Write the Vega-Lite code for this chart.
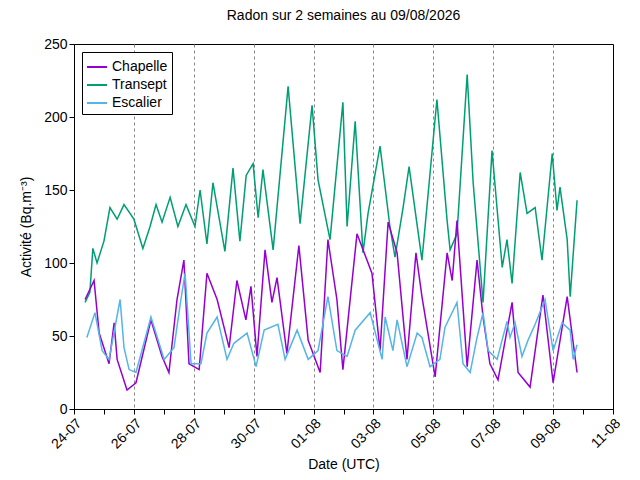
{
  "$schema": "https://vega.github.io/schema/vega-lite/v6.json",
  "autosize": "none",
  "width": 539,
  "height": 365,
  "padding": {"left": 74, "top": 44, "right": 27, "bottom": 71},
  "config": {
    "font": "Liberation Sans",
    "view": {"stroke": "black", "strokeWidth": 1},
    "axis": {"labelFontSize": 14, "titleFontSize": 14, "labelColor": "black", "titleColor": "black", "titleFontWeight": "normal", "domainColor": "black", "tickColor": "black"}
  },
  "title": {"text": "Radon sur 2 semaines au 09/08/2026", "fontSize": 14, "fontWeight": "normal", "offset": 14},
  "data": {"values": [
    {"s":"Transept","d":0.37,"v":73},{"s":"Transept","d":0.53,"v":80},{"s":"Transept","d":0.63,"v":110},{"s":"Transept","d":0.77,"v":100},{"s":"Transept","d":1.0,"v":115},{"s":"Transept","d":1.2,"v":138},{"s":"Transept","d":1.44,"v":130},{"s":"Transept","d":1.67,"v":140},{"s":"Transept","d":2.0,"v":130},{"s":"Transept","d":2.3,"v":110},{"s":"Transept","d":2.54,"v":125},{"s":"Transept","d":2.74,"v":140},{"s":"Transept","d":2.94,"v":128},{"s":"Transept","d":3.21,"v":145},{"s":"Transept","d":3.47,"v":125},{"s":"Transept","d":3.74,"v":140},{"s":"Transept","d":4.04,"v":125},{"s":"Transept","d":4.21,"v":150},{"s":"Transept","d":4.44,"v":113},{"s":"Transept","d":4.64,"v":155},{"s":"Transept","d":5.04,"v":108},{"s":"Transept","d":5.31,"v":165},{"s":"Transept","d":5.54,"v":115},{"s":"Transept","d":5.75,"v":160},{"s":"Transept","d":5.98,"v":168},{"s":"Transept","d":6.15,"v":131},{"s":"Transept","d":6.31,"v":164},{"s":"Transept","d":6.65,"v":109},{"s":"Transept","d":7.15,"v":221},{"s":"Transept","d":7.55,"v":127},{"s":"Transept","d":7.95,"v":208},{"s":"Transept","d":8.15,"v":157},{"s":"Transept","d":8.55,"v":116},{"s":"Transept","d":8.98,"v":210},{"s":"Transept","d":9.12,"v":125},{"s":"Transept","d":9.39,"v":197},{"s":"Transept","d":9.65,"v":107},{"s":"Transept","d":9.82,"v":134},{"s":"Transept","d":10.22,"v":180},{"s":"Transept","d":10.55,"v":125},{"s":"Transept","d":10.72,"v":104},{"s":"Transept","d":10.99,"v":138},{"s":"Transept","d":11.19,"v":166},{"s":"Transept","d":11.62,"v":102},{"s":"Transept","d":12.12,"v":212},{"s":"Transept","d":12.46,"v":129},{"s":"Transept","d":12.56,"v":109},{"s":"Transept","d":12.79,"v":120},{"s":"Transept","d":13.13,"v":229},{"s":"Transept","d":13.33,"v":155},{"s":"Transept","d":13.66,"v":73},{"s":"Transept","d":13.96,"v":177},{"s":"Transept","d":14.3,"v":97},{"s":"Transept","d":14.46,"v":116},{"s":"Transept","d":14.63,"v":86},{"s":"Transept","d":14.9,"v":162},{"s":"Transept","d":15.13,"v":134},{"s":"Transept","d":15.4,"v":138},{"s":"Transept","d":15.63,"v":102},{"s":"Transept","d":15.97,"v":175},{"s":"Transept","d":16.13,"v":136},{"s":"Transept","d":16.23,"v":152},{"s":"Transept","d":16.47,"v":116},{"s":"Transept","d":16.57,"v":77},{"s":"Transept","d":16.8,"v":143},
    {"s":"Chapelle","d":0.37,"v":75},{"s":"Chapelle","d":0.67,"v":88},{"s":"Chapelle","d":0.84,"v":52},{"s":"Chapelle","d":1.17,"v":31},{"s":"Chapelle","d":1.34,"v":59},{"s":"Chapelle","d":1.44,"v":34},{"s":"Chapelle","d":1.77,"v":13},{"s":"Chapelle","d":2.07,"v":18},{"s":"Chapelle","d":2.57,"v":61},{"s":"Chapelle","d":2.94,"v":36},{"s":"Chapelle","d":3.17,"v":25},{"s":"Chapelle","d":3.44,"v":75},{"s":"Chapelle","d":3.67,"v":102},{"s":"Chapelle","d":3.84,"v":31},{"s":"Chapelle","d":4.18,"v":27},{"s":"Chapelle","d":4.44,"v":93},{"s":"Chapelle","d":4.78,"v":75},{"s":"Chapelle","d":5.18,"v":42},{"s":"Chapelle","d":5.44,"v":88},{"s":"Chapelle","d":5.74,"v":61},{"s":"Chapelle","d":5.91,"v":84},{"s":"Chapelle","d":6.11,"v":36},{"s":"Chapelle","d":6.38,"v":109},{"s":"Chapelle","d":6.61,"v":73},{"s":"Chapelle","d":6.78,"v":90},{"s":"Chapelle","d":7.11,"v":38},{"s":"Chapelle","d":7.51,"v":112},{"s":"Chapelle","d":7.82,"v":47},{"s":"Chapelle","d":8.22,"v":25},{"s":"Chapelle","d":8.48,"v":116},{"s":"Chapelle","d":8.78,"v":75},{"s":"Chapelle","d":8.98,"v":27},{"s":"Chapelle","d":9.45,"v":120},{"s":"Chapelle","d":9.95,"v":93},{"s":"Chapelle","d":10.22,"v":40},{"s":"Chapelle","d":10.49,"v":128},{"s":"Chapelle","d":10.79,"v":107},{"s":"Chapelle","d":11.12,"v":34},{"s":"Chapelle","d":11.42,"v":107},{"s":"Chapelle","d":11.62,"v":77},{"s":"Chapelle","d":12.06,"v":22},{"s":"Chapelle","d":12.46,"v":107},{"s":"Chapelle","d":12.63,"v":88},{"s":"Chapelle","d":12.79,"v":129},{"s":"Chapelle","d":13.13,"v":29},{"s":"Chapelle","d":13.46,"v":102},{"s":"Chapelle","d":13.66,"v":63},{"s":"Chapelle","d":13.89,"v":31},{"s":"Chapelle","d":14.16,"v":20},{"s":"Chapelle","d":14.63,"v":73},{"s":"Chapelle","d":14.83,"v":25},{"s":"Chapelle","d":15.23,"v":15},{"s":"Chapelle","d":15.66,"v":78},{"s":"Chapelle","d":16.0,"v":18},{"s":"Chapelle","d":16.47,"v":77},{"s":"Chapelle","d":16.8,"v":25},
    {"s":"Escalier","d":0.43,"v":49},{"s":"Escalier","d":0.7,"v":66},{"s":"Escalier","d":0.94,"v":40},{"s":"Escalier","d":1.17,"v":34},{"s":"Escalier","d":1.54,"v":75},{"s":"Escalier","d":1.67,"v":42},{"s":"Escalier","d":1.84,"v":27},{"s":"Escalier","d":2.07,"v":25},{"s":"Escalier","d":2.57,"v":63},{"s":"Escalier","d":3.01,"v":34},{"s":"Escalier","d":3.34,"v":42},{"s":"Escalier","d":3.57,"v":75},{"s":"Escalier","d":3.71,"v":93},{"s":"Escalier","d":3.91,"v":31},{"s":"Escalier","d":4.24,"v":31},{"s":"Escalier","d":4.44,"v":52},{"s":"Escalier","d":4.78,"v":63},{"s":"Escalier","d":5.11,"v":34},{"s":"Escalier","d":5.34,"v":45},{"s":"Escalier","d":5.78,"v":52},{"s":"Escalier","d":6.08,"v":29},{"s":"Escalier","d":6.35,"v":54},{"s":"Escalier","d":6.81,"v":58},{"s":"Escalier","d":7.05,"v":34},{"s":"Escalier","d":7.45,"v":54},{"s":"Escalier","d":7.82,"v":34},{"s":"Escalier","d":8.15,"v":40},{"s":"Escalier","d":8.48,"v":77},{"s":"Escalier","d":8.78,"v":40},{"s":"Escalier","d":9.12,"v":36},{"s":"Escalier","d":9.39,"v":54},{"s":"Escalier","d":9.89,"v":66},{"s":"Escalier","d":10.29,"v":34},{"s":"Escalier","d":10.39,"v":63},{"s":"Escalier","d":10.65,"v":40},{"s":"Escalier","d":10.79,"v":61},{"s":"Escalier","d":11.12,"v":29},{"s":"Escalier","d":11.46,"v":52},{"s":"Escalier","d":11.62,"v":49},{"s":"Escalier","d":11.89,"v":29},{"s":"Escalier","d":12.22,"v":34},{"s":"Escalier","d":12.39,"v":56},{"s":"Escalier","d":12.79,"v":73},{"s":"Escalier","d":12.99,"v":31},{"s":"Escalier","d":13.23,"v":25},{"s":"Escalier","d":13.46,"v":49},{"s":"Escalier","d":13.66,"v":66},{"s":"Escalier","d":13.83,"v":40},{"s":"Escalier","d":14.13,"v":34},{"s":"Escalier","d":14.46,"v":60},{"s":"Escalier","d":14.56,"v":49},{"s":"Escalier","d":14.73,"v":59},{"s":"Escalier","d":14.96,"v":36},{"s":"Escalier","d":15.16,"v":47},{"s":"Escalier","d":15.4,"v":58},{"s":"Escalier","d":15.73,"v":75},{"s":"Escalier","d":16.0,"v":40},{"s":"Escalier","d":16.3,"v":59},{"s":"Escalier","d":16.57,"v":54},{"s":"Escalier","d":16.67,"v":34},{"s":"Escalier","d":16.8,"v":44}
  ]},
  "mark": {"type": "line", "strokeWidth": 1.5},
  "encoding": {
    "x": {
      "field": "d", "type": "quantitative",
      "scale": {"domain": [0, 18], "nice": false},
      "title": "Date (UTC)",
      "axis": {
        "values": [0,1,2,3,4,5,6,7,8,9,10,11,12,13,14,15,16,17,18],
        "labelExpr": "datum.value % 2 == 0 ? timeFormat(datetime(2026, 6, 24 + datum.value), '%d-%m') : ''",
        "labelAngle": -45, "labelAlign": "right", "labelBaseline": "top",
        "grid": true, "gridDash": [3, 3], "gridColor": "#888",
        "gridOpacity": {"condition": {"test": "datum.value % 2 == 0 && datum.value > 0 && datum.value < 18", "value": 1}, "value": 0},
        "tickSize": 5, "titlePadding": 6
      }
    },
    "y": {
      "field": "v", "type": "quantitative",
      "scale": {"domain": [0, 250], "nice": false},
      "title": "Activité (Bq.m⁻³)",
      "axis": {"values": [0, 50, 100, 150, 200, 250], "grid": false, "tickSize": 5, "titlePadding": 10}
    },
    "color": {
      "field": "s", "type": "nominal",
      "scale": {"domain": ["Chapelle", "Transept", "Escalier"], "range": ["#9400d3", "#009e73", "#56b4e9"]},
      "legend": {
        "title": null, "orient": "top-left", "offset": 8,
        "strokeColor": "black", "fillColor": "white", "padding": 4,
        "symbolType": "stroke", "symbolStrokeWidth": 2, "symbolSize": 400,
        "labelFontSize": 14, "labelColor": "black", "rowPadding": 0
      }
    }
  }
}
